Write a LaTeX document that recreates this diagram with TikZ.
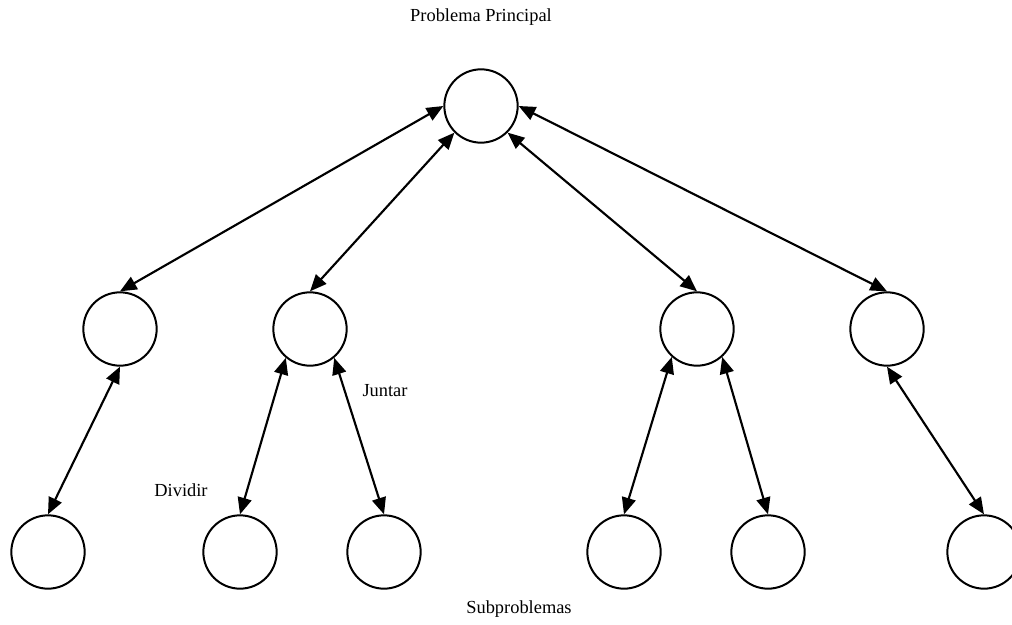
\documentclass[tikz,border=0pt]{standalone}
\usepackage{fontspec}
\setmainfont{Liberation Serif}
\usetikzlibrary{arrows.meta}
\tikzstyle{subnode}=[
    circle,
    draw=black,
    line width=1.5pt,
    minimum size=55pt,
    inner sep=0pt]
\tikzstyle{link}=[
    line width=1.6pt,
    {Triangle[length=12.5pt,width=10.5pt]}-{Triangle[length=12.5pt,width=10.5pt]}]
\tikzstyle{caption}=[
    inner sep=0.75pt,
    font=\fontsize{13.8}{16}\selectfont]

\begin{document}
\begin{tikzpicture}[x=0.75pt,y=0.75pt,yscale=-1,xscale=1]
\clip (0,0) rectangle (1012,624);
\useasboundingbox (0,0) rectangle (1012,624);

%Shape: Circle [id:top] 
\node [subnode] (top) at (481,106) {};
%Shape: Circle [id:middle row] 
\node [subnode] (m1) at (120,329) {};
\node [subnode] (m2) at (310,329) {};
\node [subnode] (m3) at (697,329) {};
\node [subnode] (m4) at (887,329) {};
%Shape: Circle [id:bottom row] 
\node [subnode] (b1) at (48,552) {};
\node [subnode] (b2) at (240,552) {};
\node [subnode] (b3) at (384,552) {};
\node [subnode] (b4) at (624,552) {};
\node [subnode] (b5) at (768,552) {};
\node [subnode] (b6) at (984,552) {};

%Straight Lines [id:top to middle] 
\draw [link] (top.west) -- (m1.north);
\draw [link] (top.225) -- (m2.north);
\draw [link] (top.315) -- (m3.north);
\draw [link] (top.east) -- (m4.north);
%Straight Lines [id:middle to bottom] 
\draw [link] (m1.south) -- (b1.north);
\draw [link] (m2.230) -- (b2.north);
\draw [link] (m2.310) -- (b3.north);
\draw [link] (m3.228) -- (b4.north);
\draw [link] (m3.312) -- (b5.north);
\draw [link] (m4.south) -- (b6.north);

% Text Node
\draw (481,17) node [caption] (main) {Problema Principal};
% Text Node
\draw (385,391) node [caption] (merge) {Juntar};
% Text Node
\draw (181,490) node [caption] (split) {Dividir};
% Text Node
\draw (519,609) node [caption] (subs) {Subproblemas};

\end{tikzpicture}
\end{document}
